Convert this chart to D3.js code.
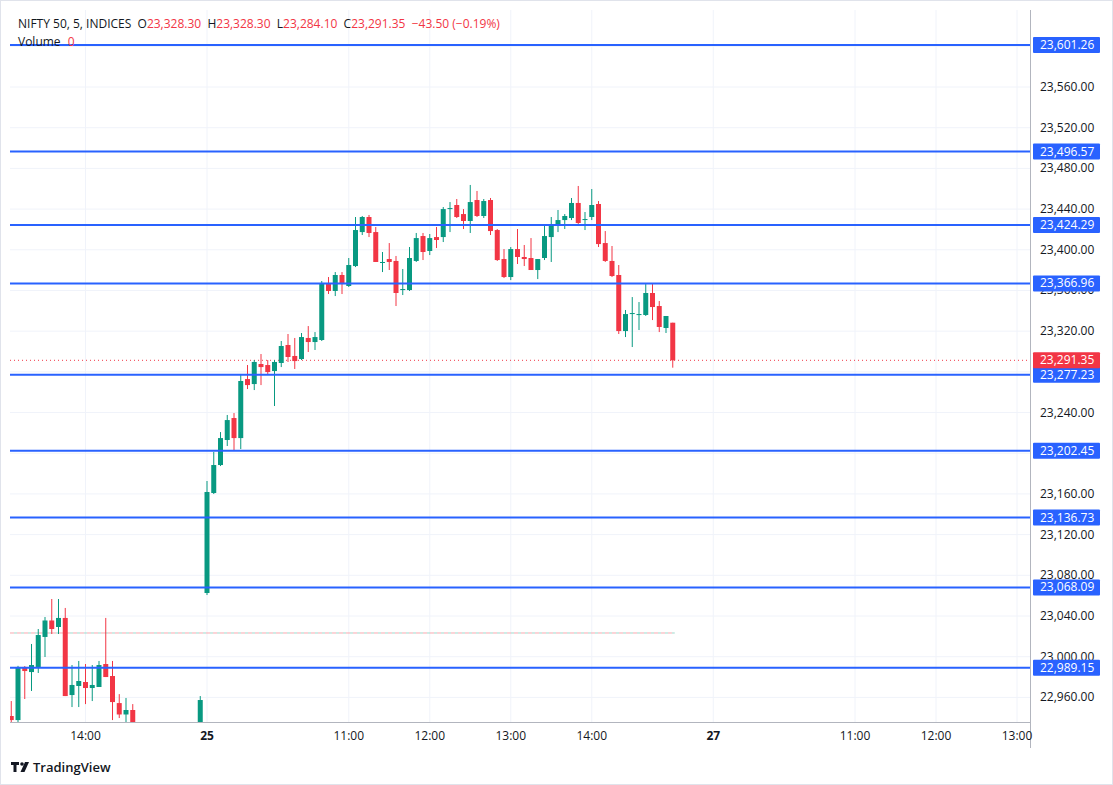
<!DOCTYPE html>
<html><head><meta charset="utf-8">
<script src="https://cdn.jsdelivr.net/npm/d3@7"></script>
<style>body{margin:0;background:#fff;font-family:"Open Sans","Noto Sans",sans-serif}</style>
</head><body><svg id="c" width="1113" height="785"></svg>
<script>
// slot index: 0 = 25th 09:15, -1 = 24th 15:25, 75 = 27th 09:15 (5-min bars)
const slotsDay24 = d3.range(-29, 0);
const ohlcDay24 = [
 [22941.7,22956.4,22925,22937.7],[22937.7,22991,22930,22989.9],[22989.9,22990.8,22958.4,22985.9],
 [22984.9,23012.5,22966.3,22991.8],[22989.9,23027.2,22984.0,23021.3],[23019.4,23039.0,22999.7,23035.6],
 [23035.6,23056.7,23022.3,23027.2],[23029.2,23056.7,23022.3,23038.1],[23038.1,23047.9,22961.3,22961.3],
 [22962.3,22991.8,22950.5,22972.2],[22971.2,22995.8,22950.5,22976.1],[22975.1,22992.8,22953.4,22969.2],
 [22969.2,22991.8,22956.4,22972.2],[22970.2,22995.8,22970.2,22991.8],[22992.8,23038.1,22980.0,22980.0],
 [22981.0,22995.8,22937.7,22955.4],[22954.4,22963.2,22939.7,22943.2],[22943.2,22959.4,22935.5,22947.6],
 [22947.6,22953.4,22925,22930],
 [22930,22933,22910,22915],[22915,22925,22900,22920],[22920,22928,22905,22908],[22908,22918,22895,22912],
 [22912,22922,22902,22906],[22906,22916,22898,22914],[22914,22926,22908,22922],[22922,22930,22912,22918],
 [22918,22924,22910,22920],
 [22920,22961.3,22915,22957.4]
];
const slotsDay25 = d3.range(0, 70);
const ohlcDay25 = [
 [23062.6,23172.7,23060.6,23161.9],[23160.9,23201.2,23159.9,23188.4],[23188.4,23220.8,23187.4,23214.9],
 [23213.0,23237.6,23207.1,23232.6],[23234.6,23239.5,23202.2,23214.9],[23214.9,23277.9,23204.1,23271.0],
 [23272.9,23286.7,23263.1,23267.0],[23268.0,23291.6,23262.1,23289.7],[23287.7,23297.5,23267.0,23284.7],
 [23286.7,23291.6,23276.9,23279.8],[23280.8,23291.6,23246.4,23289.7],[23288.7,23310.3,23284.7,23305.4],
 [23306.4,23317.2,23289.7,23294.6],[23295.6,23313.3,23282.8,23290.6],[23292.6,23318.2,23291.6,23314.2],
 [23313.3,23325.0,23299.5,23309.3],[23309.3,23319.1,23301.5,23314.2],[23311.3,23369.3,23310.3,23367.3],
 [23366.3,23373.2,23356.5,23359.5],[23359.5,23378.1,23354.5,23375.2],[23375.2,23378.1,23356.5,23366.3],
 [23364.4,23391.9,23363.4,23385.0],[23384.0,23432.2,23383.0,23419.4],[23417.4,23433.2,23414.5,23432.2],
 [23432.2,23434.2,23412.5,23416.5],[23417.4,23422.4,23388.0,23388.0],[23387.0,23397.8,23378.1,23388.0],
 [23390.9,23406.6,23380.1,23388.0],[23389.0,23393.9,23344.7,23357.5],[23360.4,23381.1,23355.5,23361.4],
 [23360.4,23402.7,23359.5,23391.9],[23389.0,23416.5,23388.0,23411.5],[23413.5,23416.5,23389.9,23397.8],
 [23398.8,23415.5,23394.8,23411.5],[23412.5,23422.4,23401.7,23409.6],[23412.5,23442.0,23407.6,23440.0],
 [23440.0,23446.9,23417.4,23441.0],[23444.0,23449.9,23431.2,23432.2],[23435.1,23440.0,23420.4,23428.3],
 [23428.3,23463.7,23416.5,23446.9],[23448.9,23457.8,23432.2,23433.2],[23433.2,23449.9,23431.2,23447.9],
 [23448.9,23450.9,23414.5,23418.4],[23419.4,23420.4,23389.0,23389.9],[23390.9,23400.7,23372.2,23373.2],
 [23373.2,23402.7,23370.2,23400.7],[23400.7,23420.4,23386.0,23392.9],[23392.9,23404.7,23384.0,23390.9],
 [23391.9,23411.5,23380.1,23380.1],[23380.1,23390.9,23371.2,23390.9],[23391.9,23424.3,23389.9,23413.5],
 [23412.5,23432.2,23388.0,23424.3],[23424.3,23439.1,23417.4,23429.2],[23429.2,23435.1,23420.4,23433.2],
 [23431.2,23450.9,23429.2,23446.0],[23446.0,23462.7,23424.3,23426.3],[23429.7,23437.1,23419.4,23430.2],
 [23432.2,23459.7,23429.2,23444.0],[23445.0,23447.9,23402.7,23405.6],[23406.6,23418.4,23388.0,23389.0],
 [23389.0,23403.7,23373.2,23374.2],[23375.2,23385.0,23317.2,23320.1],[23320.1,23340.8,23314.2,23336.8],
 [23337.3,23353.5,23304.4,23337.8],[23336.3,23348.6,23321.1,23336.8],[23335.9,23366.3,23334.9,23357.5],
 [23357.5,23366.3,23330.9,23343.7],[23344.7,23349.6,23319.1,23324.1],[23323.1,23334.9,23318.2,23334.9],
 [23328.3,23328.3,23284.1,23291.35]
];
const levels = [23601.26,23496.57,23424.29,23366.96,23277.23,23202.45,23136.73,23068.09,22989.15];
const lastPrice = 23291.35;
const prevClose = 23023.3;
const priceTicks = d3.range(22960, 23601, 40);
const timeTickSlots = [-18,0,21,33,45,57,75,96,108,120];
const timeTickLabels = ["14:00","25","11:00","12:00","13:00","14:00","27","11:00","12:00","13:00"];

const svg = d3.select("#c");
const L=10,R=1030,T=10,B=722;
const x = d3.scaleLinear().domain([-29,96]).range([11.25,855]);
const y = d3.scaleLinear().domain([23040,23560]).range([616,87]);
const fmt = d3.format(",.2f");
const green="#089981", red="#f23645", blue="#2962ff";

svg.append("rect").attr("x",0.5).attr("y",0.5).attr("width",1112).attr("height",784).attr("fill","#fff").attr("stroke","#e0e3eb");
const defs=svg.append("defs");
defs.append("clipPath").attr("id","clip").append("rect").attr("x",L).attr("y",T).attr("width",R-L).attr("height",B-T);

const grid=svg.append("g").attr("stroke","#f0f3fa");
priceTicks.forEach(p=>grid.append("line").attr("x1",L).attr("x2",R).attr("y1",y(p)).attr("y2",y(p)));
timeTickSlots.forEach(s=>grid.append("line").attr("x1",x(s)).attr("x2",x(s)).attr("y1",T).attr("y2",B));

const plot=svg.append("g").attr("clip-path","url(#clip)");
plot.append("line").attr("x1",L).attr("x2",x(69)+2).attr("y1",y(prevClose)).attr("y2",y(prevClose))
  .attr("stroke","#f7a8b0").attr("stroke-dasharray","4,3");
plot.append("line").attr("x1",L+4).attr("x2",x(69)+2).attr("y1",y(prevClose)).attr("y2",y(prevClose))
  .attr("stroke","#9fd8cc").attr("stroke-dasharray","3,4");
plot.append("line").attr("x1",L).attr("x2",R).attr("y1",y(lastPrice)).attr("y2",y(lastPrice))
  .attr("stroke",red).attr("stroke-dasharray","1,3");

const bars = slotsDay24.map((s,i)=>({s,d:ohlcDay24[i]})).concat(slotsDay25.map((s,i)=>({s,d:ohlcDay25[i]})));
const cg=plot.selectAll("g.c").data(bars).join("g");
cg.append("line").attr("x1",b=>x(b.s)).attr("x2",b=>x(b.s)).attr("y1",b=>y(b.d[1])).attr("y2",b=>y(b.d[2]))
  .attr("stroke",b=>b.d[3]>=b.d[0]?green:red);
cg.append("rect").attr("x",b=>x(b.s)-2.5).attr("width",5)
  .attr("y",b=>y(Math.max(b.d[0],b.d[3]))).attr("height",b=>Math.max(1,Math.abs(y(b.d[0])-y(b.d[3]))))
  .attr("fill",b=>b.d[3]>=b.d[0]?green:red);

levels.forEach(p=>plot.append("line").attr("x1",L).attr("x2",R).attr("y1",y(p)).attr("y2",y(p)).attr("stroke",blue).attr("stroke-width",2));

svg.append("line").attr("x1",R+0.5).attr("x2",R+0.5).attr("y1",T).attr("y2",748).attr("stroke","#b2b5be");
svg.append("line").attr("x1",L).attr("x2",R).attr("y1",B+0.5).attr("y2",B+0.5).attr("stroke","#b2b5be");

const ax=svg.append("g").attr("font-size",12).attr("fill","#131722");
const boxed = levels.concat([lastPrice]);
// ticks fully covered by a price label box are not drawn (as in the reference)
priceTicks.filter(p=>!boxed.some(b=>Math.abs(y(b)-y(p))<6))
  .forEach(p=>ax.append("text").attr("x",1040).attr("y",y(p)+4).text(fmt(p)));
timeTickSlots.forEach((s,i)=>ax.append("text").attr("x",x(s)).attr("y",740).attr("text-anchor","middle")
  .attr("font-weight",timeTickLabels[i].includes(":")?400:700).text(timeTickLabels[i]));

function box(p,col){
  ax.append("rect").attr("x",1033).attr("y",y(p)-8).attr("width",67).attr("height",16).attr("fill",col).attr("rx",1);
  ax.append("text").attr("x",1040).attr("y",y(p)+4).attr("fill","#fff").text(fmt(p));
}
levels.forEach(p=>box(p,blue));
box(lastPrice,red);

const h=svg.append("text").attr("x",18).attr("y",28).attr("font-size",12).attr("fill","#131722");
[["NIFTY 50, 5, INDICES  O","#131722"],["23,328.30","#f23645"],["  H","#131722"],["23,328.30","#f23645"],
 ["  L","#131722"],["23,284.10","#f23645"],["  C","#131722"],["23,291.35","#f23645"],["  −43.50 (−0.19%)","#f23645"]]
 .forEach(([t,c])=>h.append("tspan").attr("fill",c).style("white-space","pre").text(t));
const v=svg.append("text").attr("x",18).attr("y",46).attr("font-size",12).attr("fill","#131722");
v.append("tspan").text("Volume ");v.append("tspan").attr("fill",red).attr("dx",4).text("0");

const lg=svg.append("g").attr("transform","translate(11,762)");
lg.append("path").attr("d","M0 0H8V3H5.5V10H2.5V3H0Z").attr("fill","#131722");
lg.append("circle").attr("cx",11).attr("cy",2).attr("r",1.8).attr("fill","#131722");
lg.append("path").attr("d","M14 0H18L13.5 10H9.5Z").attr("fill","#131722");
svg.append("text").attr("x",33).attr("y",772).attr("font-size",13).attr("font-weight",600).attr("fill","#131722").text("TradingView");
</script></body></html>
